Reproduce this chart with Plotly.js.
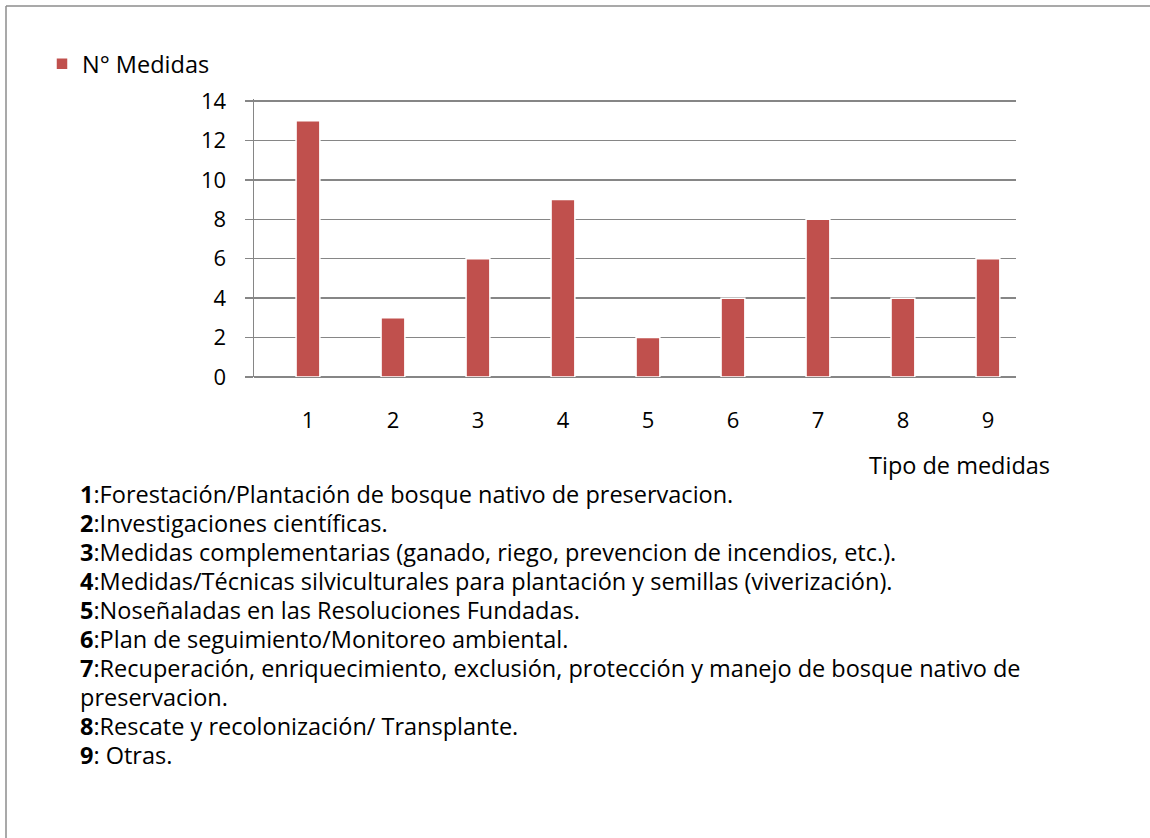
<!DOCTYPE html>
<html>
<head>
<meta charset="utf-8">
<script src="https://cdn.plot.ly/plotly-3.0.1.min.js"></script>
<style>html,body{margin:0;padding:0;background:#fff;}#chart{width:1150px;height:838px;}</style>
</head>
<body>
<div id="chart"></div>
<script>
var categories = [1, 2, 3, 4, 5, 6, 7, 8, 9];
var tickLabels = ["1", "2", "3", "4", "5", "6", "7", "8", "9"];
var medidas = [13, 3, 6, 9, 2, 4, 8, 4, 6];
var seriesName = "N° Medidas";
var xTitle = "Tipo de medidas";
var descNums = ["1", "2", "3", "4", "5", "6", "7", "", "8", "9"];
var descTexts = [
  ":Forestación/Plantación de bosque nativo de preservacion.",
  ":Investigaciones científicas.",
  ":Medidas complementarias (ganado, riego, prevencion de incendios, etc.).",
  ":Medidas/Técnicas silviculturales para plantación y semillas (viverización).",
  ":Noseñaladas en las Resoluciones Fundadas.",
  ":Plan de seguimiento/Monitoreo ambiental.",
  ":Recuperación, enriquecimiento, exclusión, protección y manejo de bosque nativo de",
  "preservacion.",
  ":Rescate y recolonización/ Transplante.",
  ": Otras."
];

var W = 1150, H = 838;
var L = 254, R = 1016, T = 99, B = 377;
function px(x) { return (x - L) / (R - L); }
function py(y) { return (B - y) / (B - T); }

var FONT = "'Open Sans', 'Noto Sans', sans-serif";
var FS = 23.5;
var TICKFS = 22;
var grey = "#868686";

var trace = {
  type: "bar",
  x: categories,
  y: medidas,
  name: seriesName,
  width: 0.28,
  marker: { color: "#C0504D", line: { color: "#ffffff", width: 1.5 } },
  hoverinfo: "x+y"
};

var annotations = [];
annotations.push({
  xref: "paper", yref: "paper", x: px(1052), y: py(465),
  xanchor: "right", yanchor: "middle", showarrow: false,
  text: xTitle, font: { family: FONT, size: FS, color: "#000" }
});
for (var i = 0; i < descTexts.length; i++) {
  var t = descNums[i] ? "<b>" + descNums[i] + "</b>" + descTexts[i] : descTexts[i];
  annotations.push({
    xref: "paper", yref: "paper", x: px(78), y: py(494 + 29 * i),
    xanchor: "left", yanchor: "middle", showarrow: false, align: "left",
    text: t, font: { family: FONT, size: FS, color: "#000" }
  });
}

var shapes = [
  { type: "line", xref: "paper", yref: "paper", x0: px(6), x1: px(6), y0: py(6), y1: py(840), line: { color: "#8c8c8c", width: 1.5 } },
  { type: "line", xref: "paper", yref: "paper", x0: px(6), x1: px(1152), y0: py(6), y1: py(6), line: { color: "#8c8c8c", width: 1.5 } }
];

var layout = {
  width: W, height: H,
  margin: { l: L, r: W - R, t: T, b: H - B, pad: 0 },
  paper_bgcolor: "#fff", plot_bgcolor: "#fff",
  font: { family: FONT, size: FS, color: "#000" },
  showlegend: true,
  legend: {
    x: px(42), y: py(64), xanchor: "left", yanchor: "middle",
    font: { family: FONT, size: FS, color: "#000" }, bgcolor: "rgba(0,0,0,0)"
  },
  xaxis: {
    type: "linear", range: [0.365, 9.33],
    tickmode: "array", tickvals: categories, ticktext: tickLabels,
    showgrid: false, zeroline: false, showline: false, ticks: "",
    ticklabelstandoff: 28,
    tickfont: { family: FONT, size: TICKFS, color: "#000" }
  },
  yaxis: {
    range: [0, 14.1], tickmode: "array", tickvals: [0, 2, 4, 6, 8, 10, 12, 14],
    showgrid: true, gridcolor: grey, gridwidth: 1.5,
    zeroline: true, zerolinecolor: grey, zerolinewidth: 1.5,
    showline: true, linecolor: grey, linewidth: 1.5,
    ticks: "outside", ticklen: 8, tickcolor: grey, tickwidth: 1.5,
    ticklabelstandoff: 14,
    tickfont: { family: FONT, size: TICKFS, color: "#000" }
  },
  annotations: annotations,
  shapes: shapes
};

Plotly.newPlot("chart", [trace], layout, { displayModeBar: false, staticPlot: true });
</script>
</body>
</html>
